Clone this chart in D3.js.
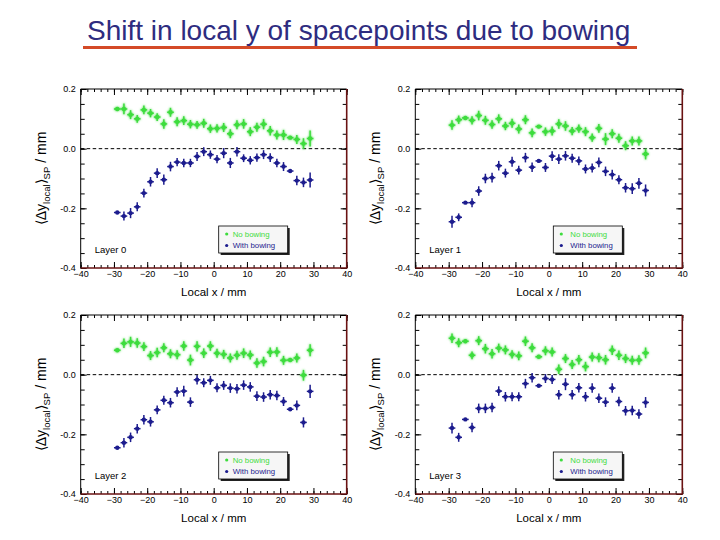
<!DOCTYPE html>
<html><head><meta charset="utf-8">
<script src="https://cdn.jsdelivr.net/npm/d3@7"></script>
<style>body{margin:0;background:#fff}svg{display:block;font-family:"Liberation Sans",Arial,sans-serif}</style>
</head><body>
<svg id="c" width="720" height="540"></svg>
<script>
// ---------------- data ----------------
const titleText = "Shift in local y of spacepoints due to bowing";
const xPos = [-29,-27,-25,-23,-21,-19,-17,-15,-13,-11,-9,-7,-5,-3,-1,1,3,5,7,9,11,13,15,17,19,21,23,25,27,29];
const xErr = 1;
const layerNames = ["Layer 0","Layer 1","Layer 2","Layer 3"];
const seriesNames = ["No bowing","With bowing"];
const xTickValues = [-40,-30,-20,-10,0,10,20,30,40];
const yTickValues = [0.2,0.0,-0.2,-0.4];
const yTickLabels = ["0.2","0.0","-0.2","-0.4"];

const noBow0 = [0.133,0.133,0.114,0.100,0.130,0.119,0.106,0.083,0.122,0.090,0.094,0.082,0.080,0.085,0.067,0.068,0.071,0.050,0.080,0.083,0.057,0.072,0.082,0.060,0.046,0.046,0.037,0.031,0.017,0.034];
const noBowErr0 = [0.003,0.018,0.015,0.013,0.015,0.014,0.013,0.016,0.015,0.015,0.015,0.014,0.013,0.015,0.014,0.014,0.015,0.015,0.015,0.016,0.015,0.015,0.017,0.016,0.015,0.017,0.003,0.015,0.018,0.027];
const withBow0 = [-0.214,-0.226,-0.216,-0.195,-0.149,-0.111,-0.082,-0.104,-0.060,-0.045,-0.048,-0.048,-0.026,-0.010,-0.020,-0.035,-0.015,-0.048,-0.010,-0.032,-0.039,-0.030,-0.020,-0.030,-0.048,-0.060,-0.075,-0.107,-0.113,-0.105];
const withBowErr0 = [0.002,0.015,0.017,0.015,0.015,0.016,0.016,0.017,0.016,0.014,0.014,0.014,0.015,0.015,0.014,0.014,0.017,0.017,0.016,0.013,0.014,0.014,0.015,0.015,0.014,0.015,0.003,0.016,0.016,0.025];

const noBow1 = [0.079,0.097,0.103,0.095,0.111,0.095,0.081,0.100,0.076,0.085,0.066,0.097,0.053,0.074,0.057,0.059,0.083,0.076,0.059,0.067,0.057,0.037,0.068,0.032,0.050,0.035,0.010,0.026,0.026,-0.018];
const noBowErr1 = [0.016,0.014,0.003,0.014,0.016,0.015,0.014,0.015,0.014,0.015,0.015,0.015,0.015,0.003,0.014,0.015,0.016,0.016,0.014,0.014,0.015,0.014,0.015,0.020,0.015,0.015,0.015,0.015,0.015,0.018];
const withBow1 = [-0.245,-0.230,-0.181,-0.181,-0.142,-0.100,-0.097,-0.057,-0.082,-0.044,-0.072,-0.030,-0.062,-0.041,-0.063,-0.025,-0.035,-0.024,-0.032,-0.041,-0.068,-0.065,-0.046,-0.076,-0.087,-0.104,-0.131,-0.134,-0.116,-0.140];
const withBowErr1 = [0.020,0.013,0.003,0.015,0.016,0.016,0.016,0.016,0.015,0.017,0.015,0.016,0.016,0.003,0.015,0.016,0.016,0.016,0.015,0.015,0.015,0.015,0.016,0.016,0.016,0.015,0.016,0.018,0.018,0.020];

const noBow2 = [0.082,0.105,0.110,0.106,0.094,0.064,0.074,0.090,0.070,0.067,0.096,0.049,0.095,0.072,0.096,0.072,0.068,0.056,0.065,0.072,0.066,0.039,0.044,0.075,0.076,0.048,0.049,0.056,-0.002,0.082];
const noBowErr2 = [0.003,0.016,0.017,0.016,0.015,0.015,0.016,0.015,0.015,0.015,0.016,0.018,0.017,0.016,0.016,0.015,0.015,0.015,0.015,0.016,0.015,0.016,0.016,0.016,0.016,0.015,0.003,0.015,0.018,0.020];
const withBow2 = [-0.245,-0.228,-0.210,-0.181,-0.151,-0.158,-0.118,-0.086,-0.094,-0.058,-0.055,-0.092,-0.017,-0.027,-0.019,-0.044,-0.036,-0.045,-0.047,-0.035,-0.041,-0.072,-0.075,-0.067,-0.070,-0.090,-0.116,-0.103,-0.160,-0.056];
const withBowErr2 = [0.003,0.016,0.016,0.016,0.016,0.016,0.015,0.015,0.016,0.016,0.018,0.016,0.016,0.015,0.015,0.015,0.015,0.016,0.016,0.016,0.016,0.016,0.016,0.016,0.016,0.015,0.002,0.016,0.017,0.022];

const noBow3 = [0.122,0.107,0.112,0.065,0.114,0.087,0.070,0.089,0.083,0.068,0.063,0.112,0.090,0.060,0.080,0.076,0.018,0.054,0.034,0.050,0.027,0.059,0.057,0.050,0.082,0.065,0.054,0.048,0.049,0.073];
const noBowErr3 = [0.016,0.015,0.003,0.013,0.015,0.016,0.016,0.015,0.015,0.014,0.015,0.016,0.015,0.003,0.015,0.015,0.016,0.015,0.015,0.016,0.016,0.015,0.015,0.016,0.016,0.016,0.015,0.015,0.016,0.018];
const withBow3 = [-0.179,-0.210,-0.150,-0.177,-0.113,-0.113,-0.110,-0.055,-0.074,-0.074,-0.074,-0.030,-0.010,-0.037,-0.013,-0.016,-0.067,-0.032,-0.067,-0.044,-0.074,-0.045,-0.079,-0.092,-0.045,-0.090,-0.121,-0.120,-0.132,-0.093];
const withBowErr3 = [0.018,0.015,0.003,0.016,0.016,0.016,0.016,0.016,0.016,0.015,0.015,0.016,0.016,0.003,0.015,0.015,0.016,0.020,0.016,0.016,0.016,0.016,0.016,0.016,0.016,0.016,0.016,0.016,0.016,0.018];

const layers = [
  {name: layerNames[0], nb: noBow0, nbe: noBowErr0, wb: withBow0, wbe: withBowErr0},
  {name: layerNames[1], nb: noBow1, nbe: noBowErr1, wb: withBow1, wbe: withBowErr1},
  {name: layerNames[2], nb: noBow2, nbe: noBowErr2, wb: withBow2, wbe: withBowErr2},
  {name: layerNames[3], nb: noBow3, nbe: noBowErr3, wb: withBow3, wbe: withBowErr3}
];

// ---------------- layout / style ----------------
const panelBoxes = [
  {x: 80.7, y: 89, w: 266, h: 179, legDx: 14},
  {x: 415.3, y: 89, w: 267, h: 179, legDx: 17},
  {x: 80.7, y: 315, w: 266, h: 179, legDx: 14},
  {x: 415.3, y: 315, w: 267, h: 179, legDx: 17}
];
const green = "#3ddc3d", blue = "#1c1c8e", frameRed = "#6a1212";

const svg = d3.select("#c");
const defs = svg.append("defs");
const glow = defs.append("filter").attr("id","glow").attr("x","-50%").attr("y","-50%").attr("width","200%").attr("height","200%");
glow.append("feGaussianBlur").attr("in","SourceGraphic").attr("stdDeviation",1.1).attr("result","b");
const fm = glow.append("feMerge");
fm.append("feMergeNode").attr("in","b");
fm.append("feMergeNode").attr("in","SourceGraphic");

// title
svg.append("text").attr("x",87).attr("y",40).attr("font-size",28).attr("fill","#2e2c80").text(titleText);
svg.append("line").attr("x1",83).attr("x2",637).attr("y1",47.5).attr("y2",47.5).attr("stroke","#d44a27").attr("stroke-width",3);

layers.forEach((L, i) => {
  const b = panelBoxes[i];
  const g = svg.append("g").attr("transform",`translate(${b.x},${b.y})`);
  const x = d3.scaleLinear().domain([-40,40]).range([0,b.w]);
  const y = d3.scaleLinear().domain([-0.4,0.2]).range([b.h,0]);

  const minorX = d3.range(-40,40.01,2), minorY = d3.range(-0.4,0.2001,0.05);
  const axStyle = sel => { sel.select(".domain").remove(); sel.selectAll("line").attr("stroke","#000"); sel.selectAll("text").attr("font-size",9).attr("fill","#000").attr("font-family","'Liberation Sans',Arial,sans-serif"); };
  g.append("g").attr("transform",`translate(0,${b.h})`).call(d3.axisBottom(x).tickValues(minorX).tickSize(-3).tickFormat("")).call(axStyle);
  g.append("g").call(d3.axisTop(x).tickValues(minorX).tickSize(-3).tickFormat("")).call(axStyle);
  g.append("g").call(d3.axisLeft(y).tickValues(minorY).tickSize(-4).tickFormat("")).call(axStyle);
  g.append("g").attr("transform",`translate(${b.w},0)`).call(d3.axisRight(y).tickValues(minorY).tickSize(-4).tickFormat("")).call(axStyle);
  g.append("g").attr("transform",`translate(0,${b.h})`).call(d3.axisBottom(x).tickValues(xTickValues).tickSize(-6).tickPadding(3).tickFormat(d3.format("d"))).call(axStyle);
  g.append("g").call(d3.axisTop(x).tickValues(xTickValues).tickSize(-6).tickFormat("")).call(axStyle);
  g.append("g").call(d3.axisLeft(y).tickValues(yTickValues).tickSize(-6).tickPadding(5).tickFormat((d,k)=>yTickLabels[k])).call(axStyle);
  g.append("g").attr("transform",`translate(${b.w},0)`).call(d3.axisRight(y).tickValues(yTickValues).tickSize(-6).tickFormat("")).call(axStyle);

  g.append("line").attr("x1",0).attr("x2",b.w).attr("y1",0).attr("y2",0).attr("stroke","#000").attr("stroke-width",1);
  g.append("line").attr("x1",0).attr("x2",0).attr("y1",0).attr("y2",b.h).attr("stroke","#000").attr("stroke-width",1);
  g.append("line").attr("x1",0).attr("x2",b.w+0.8).attr("y1",b.h).attr("y2",b.h).attr("stroke",frameRed).attr("stroke-width",1.6);
  g.append("line").attr("x1",b.w).attr("x2",b.w).attr("y1",0).attr("y2",b.h).attr("stroke",frameRed).attr("stroke-width",1.6);

  g.append("line").attr("x1",0).attr("x2",b.w).attr("y1",y(0)).attr("y2",y(0))
    .attr("stroke","#000").attr("stroke-width",1).attr("stroke-dasharray","3.5,2.5");

  const drawSeries = (vals, errs, color, useGlow) => {
    const s = g.append("g");
    if (useGlow) s.attr("filter","url(#glow)");
    const pts = xPos.map((xv,k)=>({x:xv, y:vals[k], e:errs[k]}));
    s.selectAll(".h").data(pts).join("line")
      .attr("x1",d=>x(d.x-xErr)).attr("x2",d=>x(d.x+xErr)).attr("y1",d=>y(d.y)).attr("y2",d=>y(d.y))
      .attr("stroke",color).attr("stroke-width",1.5);
    s.selectAll(".v").data(pts).join("line")
      .attr("x1",d=>x(d.x)).attr("x2",d=>x(d.x)).attr("y1",d=>y(d.y-d.e)).attr("y2",d=>y(d.y+d.e))
      .attr("stroke",color).attr("stroke-width",1.5);
    s.selectAll("circle").data(pts).join("circle")
      .attr("cx",d=>x(d.x)).attr("cy",d=>y(d.y)).attr("r",2.2).attr("fill",color);
  };
  drawSeries(L.nb, L.nbe, green, true);
  drawSeries(L.wb, L.wbe, blue, false);

  const lg = g.append("g").attr("transform",`translate(138,137)`);
  const cid = "legclip"+i;
  defs.append("clipPath").attr("id",cid).append("rect").attr("x",0).attr("y",0).attr("width",69).attr("height",27);
  lg.append("rect").attr("x",2).attr("y",2).attr("width",69).attr("height",27).attr("fill","#222");
  lg.append("rect").attr("x",0).attr("y",0).attr("width",69).attr("height",27).attr("fill","#f6f6f6").attr("stroke","#000").attr("stroke-width",0.8);
  const lt = lg.append("g").attr("clip-path",`url(#${cid})`);
  [[seriesNames[0],green],[seriesNames[1],blue]].forEach(([nm,col],k)=>{
    lt.append("circle").attr("cx",8).attr("cy",8+k*11.5).attr("r",1.6).attr("fill",col);
    lt.append("text").attr("x",b.legDx).attr("y",8+k*11.5).attr("dy","0.35em").attr("font-size",7.8).attr("fill",col).text(nm);
  });

  g.append("text").attr("x",14).attr("y",164).attr("font-size",9.5).attr("fill","#000").text(L.name);

  g.append("text").attr("x",b.w/2).attr("y",b.h+28).attr("text-anchor","middle").attr("font-size",11.5).attr("fill","#000").text("Local x / mm");
  const yt = g.append("text").attr("transform",`translate(-35,${b.h/2}) rotate(-90)`).attr("text-anchor","middle").attr("font-size",14).attr("fill","#000");
  yt.append("tspan").text("\u27E8\u0394y");
  yt.append("tspan").attr("font-size",9.5).attr("dy",4).text("local");
  yt.append("tspan").attr("dy",-4).text("\u27E9");
  yt.append("tspan").attr("font-size",9.5).attr("dy",4).text("SP");
  yt.append("tspan").attr("dy",-4).text(" / mm");
});
</script>
</body></html>
